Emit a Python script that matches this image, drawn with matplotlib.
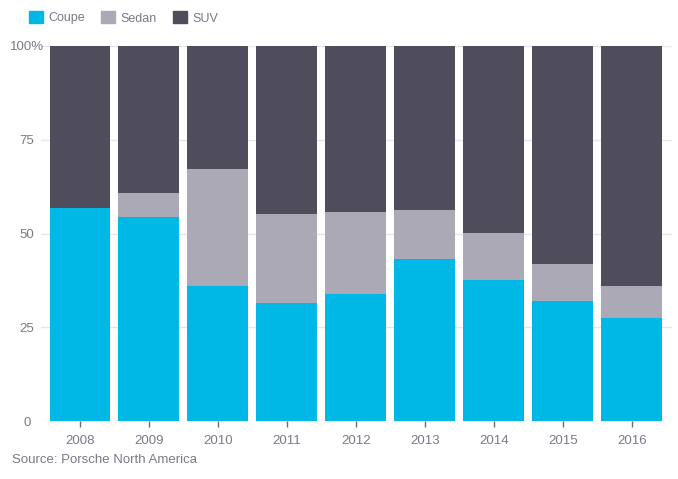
import matplotlib.pyplot as plt
import numpy as np
from matplotlib.patches import Patch

years = ['2008', '2009', '2010', '2011', '2012', '2013', '2014', '2015', '2016']
coupe = [56.8, 54.4, 36.0, 31.5, 33.9, 43.2, 37.6, 32.0, 27.5]
sedan = [0.0, 6.4, 31.2, 23.7, 21.8, 13.1, 12.5, 9.9, 8.5]
suv = [100 - c - s for c, s in zip(coupe, sedan)]

c_coupe = '#00b8e5'
c_sedan = '#aaa9b5'
c_suv = '#4f4d5c'
txt = '#7b7987'

plt.rcParams['font.family'] = ['Liberation Sans', 'DejaVu Sans']

fig = plt.figure(figsize=(6.78, 4.79), dpi=100)
ax = fig.add_axes([0.0605, 0.121, 0.9305, 0.783])

x = np.arange(len(years))
w = 0.884
ax.bar(x, coupe, w, color=c_coupe, zorder=2)
ax.bar(x, sedan, w, bottom=coupe, color=c_sedan, zorder=2)
ax.bar(x, suv, w, bottom=np.array(coupe) + np.array(sedan), color=c_suv, zorder=2)

ax.set_xlim(-0.565, 8.58)
ax.set_ylim(0, 100)
ax.set_yticks([0, 25, 50, 75, 100])
ax.set_yticklabels(['0', '25', '50', '75', '100%'], ha='center')
ax.set_xticks(x)
ax.set_xticklabels(years)
ax.grid(axis='y', color='#e6e6e6', linewidth=1, zorder=0)
for s in ax.spines.values():
    s.set_visible(False)
ax.tick_params(axis='y', length=0, pad=10, labelsize=9.5, labelcolor=txt)
ax.tick_params(axis='x', length=4, width=1, color='#6b6a74', pad=6, labelsize=9.5, labelcolor=txt)

handles = [Patch(color=c_coupe, label='Coupe'), Patch(color=c_sedan, label='Sedan'),
           Patch(color=c_suv, label='SUV')]
fig.legend(handles=handles, loc='upper left', bbox_to_anchor=(0.026, 1.0), ncol=3,
           frameon=False, fontsize=9, labelcolor=txt, handlelength=1.1, handleheight=1.1,
           columnspacing=1.3, handletextpad=0.45)

fig.text(0.018, 0.034, 'Source: Porsche North America', fontsize=9.5, color=txt)

fig.savefig('out.png', dpi=100)
